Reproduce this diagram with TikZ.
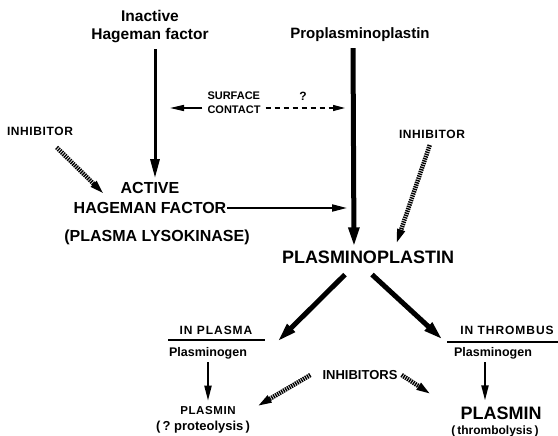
\documentclass[tikz,border=0pt]{standalone}
\usepackage{fontspec}
\setmainfont{Liberation Sans}
\usetikzlibrary{arrows.meta}
\newcommand{\fsz}[2]{\fontsize{#1}{#2}\selectfont\bfseries}
\newcommand{\lsp}[1]{\addfontfeature{LetterSpace=#1}}
\tikzset{
  lbl/.style={inner sep=0pt, align=center},
  mainarrow/.style={line width=3pt, -{Triangle[length=19pt,width=9pt]}},
  bigarrow/.style={line width=5pt, -{Triangle[length=20pt,width=10pt]}},
  smallarrow/.style={line width=2pt, -{Triangle[length=15pt,width=7pt]}},
  tinyarrow/.style={line width=1.5pt, -{Triangle[length=14pt,width=6pt]}},
  dasharrow/.style={line width=1.3pt, dash pattern=on 5pt off 4pt, -{Triangle[length=12pt,width=6pt]}},
  hatch/.style={line width=4.5pt, dash pattern=on 1.4pt off 0.9pt, -{Triangle[length=16pt,width=7pt]}},
  rule/.style={line width=1.5pt}
}
\begin{document}
\begin{tikzpicture}[x=1pt,y=-1pt]
\useasboundingbox (0,0) rectangle (558,436);
% labels
\node[lbl, font=\fsz{15.5}{18}] (inact) at (150,27) {Inactive\\Hageman factor};
\node[lbl, font=\fsz{15}{18}] (prop) at (360,35) {Proplasminoplastin};
\node[lbl, font=\fsz{11}{14}, align=left] (surf) at (234,103) {SURFACE\\CONTACT};
\node[lbl, font=\fsz{12}{14}] (q) at (303,96) {?};
\node[lbl, font=\fsz{12}{14}\lsp{5}] (inhL) at (40,131) {INHIBITOR};
\node[lbl, font=\fsz{12}{14}\lsp{5}] (inhR) at (432,134) {INHIBITOR};
\node[lbl, font=\fsz{16}{20}] (active) at (150,198) {ACTIVE\\HAGEMAN FACTOR};
\node[lbl, font=\fsz{16}{20}] (lyso) at (157,237) {(PLASMA LYSOKINASE)};
\node[lbl, font=\fsz{18}{20}] (pp) at (368,257) {PLASMINOPLASTIN};
\node[lbl, font=\fsz{12}{14}\lsp{8}] (inpl) at (216,330) {IN PLASMA};
\node[lbl, font=\fsz{12.5}{14}] (pgL) at (208,353) {Plasminogen};
\node[lbl, font=\fsz{11.5}{14}\lsp{5}] (plL) at (208,411) {PLASMIN};
\node[lbl, font=\fsz{13}{14}] (proL) at (203,427) {(\,?\ proteolysis\,)};
\node[lbl, font=\fsz{12}{14}\lsp{8}] (inth) at (507,330) {IN THROMBUS};
\node[lbl, font=\fsz{12.5}{14}] (pgR) at (493,353) {Plasminogen};
\node[lbl, font=\fsz{18}{20}] (plR) at (501,413) {PLASMIN};
\node[lbl, font=\fsz{12}{14}] (thr) at (495,431) {(\,thrombolysis\,)};
\node[lbl, font=\fsz{13}{14}] (inhs) at (360,375) {INHIBITORS};
% free ends
\coordinate (j1) at (347,208);
\coordinate (sc) at (170,108);
\coordinate (sd) at (345,108);
\coordinate (hL) at (105,195);
\coordinate (hR) at (396,245);
\coordinate (tL) at (277,342);
\coordinate (tR) at (443,340);
\coordinate (iL) at (256,407);
\coordinate (iR) at (432,395);
% underlines
\draw[rule] (168,340) -- (265,340);
\draw[rule] (447,342) -- (558,342);
% connectors
\draw[mainarrow, shorten <=6pt, shorten >=4pt] ([xshift=5pt]inact.south) -- ([xshift=5pt]active.north);
\draw[bigarrow, shorten <=6pt, shorten >=3pt] ([xshift=-7pt]prop.south) -- ([xshift=-14pt]pp.north);
\draw[smallarrow] ([xshift=1pt,yshift=-10pt]active.east) -- (j1);
\draw[tinyarrow, shorten <=5pt] ([yshift=-5pt]surf.west) -- (sc);
\draw[dasharrow, shorten <=5pt] ([yshift=-5pt]surf.east) -- (sd);
\draw[hatch, shorten <=17pt] (inhL) -- (hL);
\draw[hatch, shorten <=7pt] (inhR.south) -- (hR);
\draw[bigarrow] ([xshift=-23pt,yshift=-11pt]pp.south) -- (tL);
\draw[bigarrow] ([xshift=4pt,yshift=-11pt]pp.south) -- (tR);
\draw[smallarrow, shorten <=3pt, shorten >=6pt] (pgL.south) -- (plL.north);
\draw[smallarrow, shorten <=3pt, shorten >=6pt] ([xshift=-8pt]pgR.south) -- ([xshift=-16pt]plR.north);
\draw[hatch] ([xshift=-12pt]inhs.west) -- (iL);
\draw[hatch] ([xshift=4pt]inhs.east) -- (iR);
\end{tikzpicture}
\end{document}
